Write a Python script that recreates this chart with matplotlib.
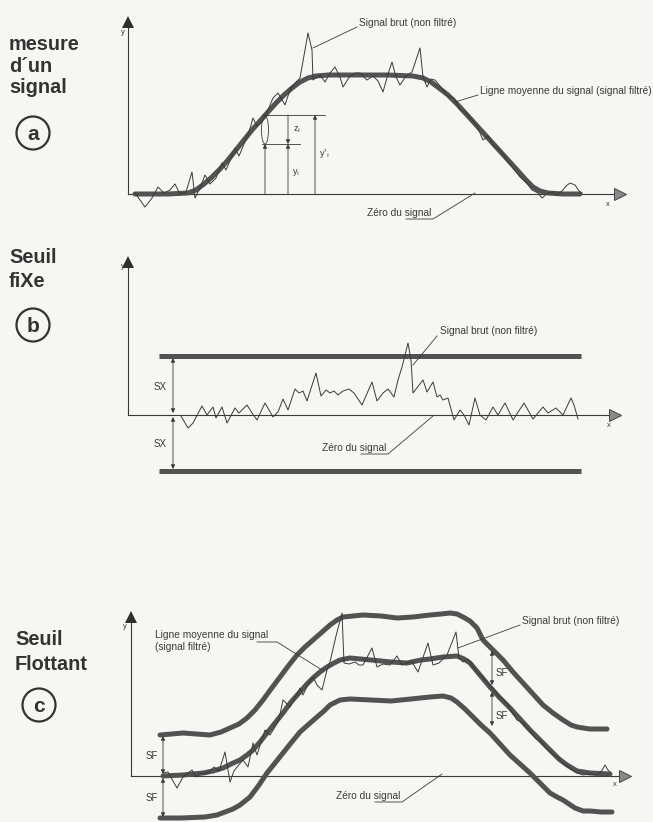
import numpy as np
import matplotlib
matplotlib.use("Agg")
import matplotlib.pyplot as plt
from matplotlib.patches import Circle, Ellipse

W, H = 653, 822
INK = "#3a3a3a"
BAND = "#525252"
PAPER = "#f6f6f3"
plt.rcParams["font.family"] = ["Liberation Sans", "DejaVu Sans"]

# ---------------- panel a : mesure d'un signal ----------------
a_mean_x = [7, 40, 60, 68, 76, 84, 92, 100, 108, 116, 124, 132, 140, 148, 156, 164, 172, 180, 188,
            200, 230, 260, 285, 295, 303, 311, 320, 330, 340, 350, 360, 370, 380, 390, 398, 405,
            412, 420, 435, 452]
a_mean_y = [0, 0, 1, 4, 10, 17, 25, 34, 44, 54, 64, 73, 82, 91, 99, 106, 112, 116, 118,
            119, 119, 119, 118, 116, 112, 106, 99, 89, 78, 67, 56, 45, 34, 23, 14, 7,
            3, 1, 0, 0]
a_raw_x = [7, 17, 24, 30, 36, 42, 47, 52, 58, 64, 67, 72, 77, 82, 88, 94, 98, 104, 107, 111, 116,
           121, 125, 129, 134, 140, 145, 150, 157, 162, 167, 172, 180, 184, 185, 192, 197, 202,
           207, 212, 215, 222, 228, 232, 239, 245, 250, 255, 260, 264, 268, 272, 278, 284, 292,
           295, 299, 303, 307, 312, 315, 320, 326, 332, 337, 344, 349, 355, 360, 366, 372, 379,
           385, 392, 398, 404, 410, 414, 420, 425, 429, 434, 438, 442, 447, 451, 454]
a_raw_y = [1, -13, -4, 7, 1, 4, 10, 0, 2, 22, -4, 6, 19, 10, 16, 31, 24, 38, 46, 38, 50,
           62, 76, 68, 72, 84, 96, 101, 89, 104, 111, 116, 161, 144, 114, 119, 112, 121,
           127, 117, 107, 118, 121, 121, 114, 118, 113, 102, 120, 132, 117, 109, 118, 122, 146,
           117, 107, 115, 114, 108, 104, 98, 96, 84, 82, 74, 68, 54, 58, 48, 44, 34,
           26, 17, 12, 4, 1, -4, 1, 2, -1, 3, 8, 11, 9, 3, 1]
a_yi, a_yi_prime = 50, 79

# ---------------- panel b : seuil fixe ----------------
b_raw_x = [53, 60, 65, 74, 79, 85, 88, 94, 99, 107, 111, 119, 124, 129, 137, 145, 150, 155, 160,
           167, 171, 175, 179, 188, 193, 198, 202, 206, 210, 215, 221, 226, 234, 244, 249, 255,
           260, 266, 270, 274, 280, 283, 285, 295, 299, 305, 309, 312, 315, 320, 326, 332, 336,
           341, 347, 352, 358, 365, 370, 377, 385, 396, 405, 415, 420, 428, 435, 443, 446, 450]
b_raw_y = [-1, -13, -8, 9, 0, 8, -3, 8, -8, 7, 2, 10, 2, -5, 12, -2, 3, 16, 5,
           26, 22, 24, 14, 42, 19, 25, 22, 24, 20, 24, 26, 22, 10, 33, 14, 22,
           26, 18, 35, 48, 72, 55, 22, 35, 23, 33, 18, 20, 15, 17, -5, 5, 0,
           -10, 17, 0, -5, 8, 0, 12, -5, 12, -4, 8, 2, 7, 0, 17, 10, -4]
b_sx_up, b_sx_down = 59, -56
b_thr_x = [31, 453]

# ---------------- panel c : seuil flottant ----------------
c_mean_x = [32, 52, 72, 82, 92, 100, 109, 116, 122, 129, 136, 144, 152, 160, 169, 176, 182, 189,
            196, 203, 209, 219, 240, 260, 276, 290, 299, 312, 326, 333, 339, 349, 359, 369, 379,
            389, 399, 409, 419, 428, 436, 446, 459, 479]
c_mean_y = [0, 1, 3, 5, 8, 12, 16, 21, 26, 34, 43, 53, 63, 74, 84, 92, 98, 104,
            109, 113, 116, 118, 116, 114, 113, 116, 117, 119, 120, 117, 113, 101, 89, 78, 68,
            57, 46, 36, 26, 17, 11, 5, 3, 2]
c_up_x = [29, 52, 79, 90, 99, 108, 116, 124, 132, 140, 149, 158, 166, 174, 182, 190, 199, 206,
          212, 232, 250, 266, 282, 299, 310, 319, 326, 332, 339, 346, 352, 362, 372, 382, 392,
          402, 412, 422, 432, 440, 446, 452, 459, 476]
c_up_y = [41, 43, 41, 44, 48, 52, 58, 66, 76, 87, 99, 111, 121, 129, 136, 143, 151, 156,
          159, 161, 160, 158, 159, 161, 162, 163, 162, 159, 155, 148, 136, 126, 116, 104, 93,
          82, 71, 63, 56, 51, 49, 48, 47, 47]
c_low_x = [29, 50, 74, 86, 94, 102, 109, 119, 128, 136, 144, 152, 160, 169, 178, 186, 193, 199,
           209, 219, 240, 260, 280, 299, 312, 320, 326, 334, 342, 350, 359, 369, 379, 389, 399,
           409, 419, 426, 432, 438, 444, 452, 459, 470, 481]
c_low_y = [-42, -42, -41, -39, -36, -33, -29, -21, -9, 3, 13, 23, 33, 44, 52, 59, 65, 71,
           76, 77, 76, 75, 77, 79, 80, 78, 74, 67, 59, 51, 43, 32, 21, 12, 3,
           -7, -17, -21, -24, -28, -32, -35, -35, -36, -36]
c_raw_x = [32, 37, 42, 46, 52, 57, 61, 65, 70, 74, 78, 83, 88, 94, 99, 103, 106, 112, 117, 122,
           126, 130, 134, 139, 144, 148, 152, 159, 164, 169, 172, 177, 182, 186, 191, 196, 199,
           205, 211, 213, 218, 224, 228, 232, 241, 246, 252, 259, 266, 271, 276, 281, 287, 297,
           302, 308, 316, 325, 328, 332, 337, 342, 347, 352, 357, 362, 367, 372, 377, 382, 386,
           391, 396, 400, 405, 409, 414, 420, 426, 432, 439, 446, 452, 459, 466, 470, 474, 477, 479]
c_raw_y = [3, 4, -5, -12, -1, 3, 6, -1, 3, 2, 4, 9, 5, 24, -6, 5, 9, 16, 9, 33,
           21, 34, 46, 41, 49, 57, 76, 69, 78, 88, 81, 92, 99, 91, 86, 106, 114,
           140, 163, 113, 112, 114, 111, 111, 128, 109, 112, 111, 120, 111, 113, 114, 104, 133,
           111, 113, 121, 144, 118, 114, 117, 109, 103, 99, 92, 88, 80, 77, 71, 62, 56,
           54, 48, 44, 37, 36, 29, 23, 19, 13, 8, 3, 1, 2, 1, 4, 11, 6, 4]

LFS = 7.3  # size of the small callout labels

fig = plt.figure(figsize=(W / 100, H / 100), dpi=100, facecolor=PAPER)


def make_panel(box, origin):
    l, t, r, b = box
    ox, oy = origin
    ax = fig.add_axes([l / W, 1 - b / H, (r - l) / W, (b - t) / H])
    ax.set_xlim(l - ox, r - ox)
    ax.set_ylim(oy - b, oy - t)
    ax.axis("off")
    return ax


def axes_arrows(ax, xmax, ymax):
    ax.plot([0, 0], [0, ymax - 6], color=INK, lw=0.8)
    ax.plot([0, xmax - 6], [0, 0], color=INK, lw=0.8)
    ax.plot(0, ymax - 5, marker="^", ms=8, color="#2e2e2e", mew=0)
    ax.plot(xmax - 5, 0, marker=">", ms=8.5, mfc="#8a8a8a", mec="#444444", mew=0.7)


def arrow(ax, x, y0, y1, style="-|>"):
    ax.annotate("", xy=(x, y1), xytext=(x, y0),
                arrowprops=dict(arrowstyle=style, color=INK, lw=0.6,
                                mutation_scale=6, shrinkA=0, shrinkB=0))


def label(ax, x, y, s, leader, fs=LFS):
    ax.text(x, y, s, fontsize=fs, color=INK, va="bottom", ha="left")
    lx, ly = zip(*leader)
    ax.plot(lx, ly, color=INK, lw=0.6)


# panel a
ax = make_panel((100, 10, 640, 225), (128, 194))
axes_arrows(ax, 497, 177)
ax.text(-7, 160, "y", fontsize=5.5, color=INK)
ax.text(478, -12, "x", fontsize=5.5, color=INK)
ax.plot(a_mean_x, a_mean_y, color=BAND, lw=3.6, solid_capstyle="round", solid_joinstyle="round")
ax.plot(a_raw_x, a_raw_y, color=INK, lw=0.7)
ax.plot([134, 197], [a_yi_prime] * 2, color=INK, lw=0.6)
ax.plot([134, 172], [a_yi] * 2, color=INK, lw=0.6)
arrow(ax, 137, 0, a_yi)
ax.add_patch(Ellipse((137, 64), 7, 28, fill=False, ec=INK, lw=0.6))
arrow(ax, 160, 0, a_yi)
arrow(ax, 160, a_yi_prime, a_yi)
arrow(ax, 187, 0, a_yi_prime)
ax.text(165, 64, "z$_{\\mathrm{i}}$", fontsize=6.5, color=INK, va="center")
ax.text(164, 22, "y$_{\\mathrm{i}}$", fontsize=6.5, color=INK, va="center")
ax.text(191, 41, "y$'_{\\mathrm{i}}$", fontsize=6.5, color=INK, va="center")
label(ax, 231, 166, "Signal brut (non filtré)", [(229, 167), (185, 146)])
label(ax, 352, 98, "Ligne moyenne du signal (signal filtré)", [(350, 99), (327, 92)])
label(ax, 239, -24, "Zéro du signal", [(278, -25), (305, -25), (347, 1)])

# panel b
ax = make_panel((100, 245, 640, 490), (128, 415))
axes_arrows(ax, 492, 158)
ax.text(-7, 147, "y", fontsize=5.5, color=INK)
ax.text(479, -12, "x", fontsize=5.5, color=INK)
ax.plot(b_thr_x, [b_sx_up] * 2, color=BAND, lw=3.6, solid_capstyle="butt")
ax.plot(b_thr_x, [b_sx_down] * 2, color=BAND, lw=3.6, solid_capstyle="butt")
ax.plot(b_raw_x, b_raw_y, color=INK, lw=0.7)
arrow(ax, 45, 2, b_sx_up - 2, "<|-|>")
arrow(ax, 45, -2, b_sx_down + 2, "<|-|>")
ax.text(39, 28, "SX", fontsize=7, color=INK, ha="right", va="center")
ax.text(39, -29, "SX", fontsize=7, color=INK, ha="right", va="center")
label(ax, 312, 79, "Signal brut (non filtré)", [(309, 79), (285, 50)])
label(ax, 194, -38, "Zéro du signal", [(233, -39), (260, -39), (305, -1)])

# panel c
ax = make_panel((100, 595, 653, 822), (131, 776))
axes_arrows(ax, 499, 164)
ax.text(-8, 148, "y", fontsize=5.5, color=INK)
ax.text(482, -10, "x", fontsize=5.5, color=INK)
for xs, ys in [(c_up_x, c_up_y), (c_low_x, c_low_y), (c_mean_x, c_mean_y)]:
    ax.plot(xs, ys, color=BAND, lw=3.6, solid_capstyle="round", solid_joinstyle="round")
ax.plot(c_raw_x, c_raw_y, color=INK, lw=0.7)
arrow(ax, 32, 2, c_up_y[0] - 1, "<|-|>")
arrow(ax, 32, -2, c_low_y[0] + 1, "<|-|>")
ax.text(27, 20, "SF", fontsize=7, color=INK, ha="right", va="center")
ax.text(27, -22, "SF", fontsize=7, color=INK, ha="right", va="center")
arrow(ax, 361, 91, 125, "<|-|>")
arrow(ax, 361, 50, 84, "<|-|>")
ax.text(365, 103, "SF", fontsize=7, color=INK, va="center")
ax.text(365, 60, "SF", fontsize=7, color=INK, va="center")
ax.text(24, 124, "Ligne moyenne du signal\n(signal filtré)", fontsize=LFS, color=INK,
        va="bottom", ha="left", linespacing=1.25)
ax.plot([126, 146, 191], [134, 134, 106], color=INK, lw=0.6)
label(ax, 391, 150, "Signal brut (non filtré)", [(389, 151), (327, 128)])
label(ax, 205, -25, "Zéro du signal", [(244, -26), (271, -26), (311, 2)])

# left-hand titles
lab = fig.add_axes([0, 0, 1, 1], zorder=-1)
lab.set_xlim(0, W)
lab.set_ylim(H, 0)
lab.axis("off")
titles = [(["mesure", "d\u00b4un", "signal"], [50, 72, 93], "a", 133, 9),
          (["Seuil", "fiXe"], [263, 287], "b", 325, 9),
          (["Seuil", "Flottant"], [645, 670], "c", 705, 15)]
for lines, bases, letter, cy, x0 in titles:
    for s, yb in zip(lines, bases):
        lab.text(x0, yb, s, fontsize=14.3, fontweight="bold", color="#333333", va="baseline")
    lab.add_patch(Circle((x0 + 24, cy), 16.5, fill=False, ec="#333333", lw=1.6))
    lab.text(x0 + 24, cy + 1, letter, fontsize=15, fontweight="bold", color="#333333",
             ha="center", va="center")

fig.savefig("out.png", dpi=100, facecolor=PAPER)
